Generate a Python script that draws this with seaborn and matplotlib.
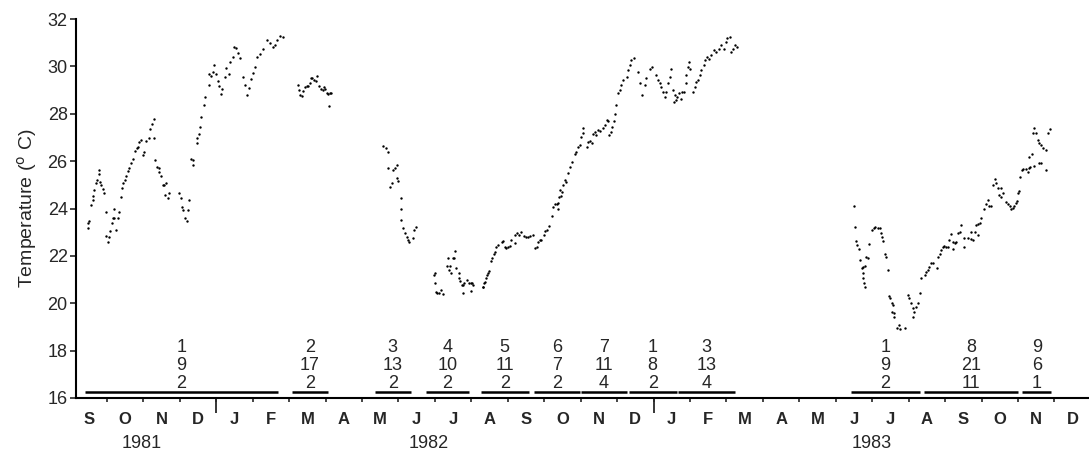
import numpy as np
import pandas as pd
import matplotlib
matplotlib.use("Agg")
import matplotlib.pyplot as plt
import seaborn as sns

# ---------------- data (x = months since 1 Sep 1981, y = temperature in deg C) -------------
seg_1981 = [(0.47, 23.37), (0.49, 23.16), (0.52, 23.47), (0.56, 24.14), (0.61, 24.35), (0.63, 24.53),
            (0.65, 24.78), (0.70, 25.06), (0.72, 25.20), (0.77, 25.44), (0.77, 25.62), (0.82, 25.13),
            (0.84, 24.98), (0.88, 24.81), (0.93, 24.64), (0.97, 23.86), (0.97, 22.85), (1.02, 22.60),
            (1.06, 22.80), (1.08, 23.04), (1.13, 23.37), (1.16, 23.58), (1.20, 23.58), (1.20, 24.00),
            (1.25, 23.10), (1.29, 23.58), (1.32, 23.86), (1.39, 24.49), (1.41, 24.86), (1.45, 25.06),
            (1.50, 25.20), (1.52, 25.38), (1.57, 25.58), (1.60, 25.69), (1.66, 25.90), (1.71, 26.11),
            (1.78, 26.42), (1.82, 26.56), (1.85, 26.60), (1.89, 26.79), (1.93, 26.90), (1.98, 26.26),
            (2.02, 26.37), (2.07, 26.85), (2.14, 26.98), (2.18, 27.37), (2.24, 27.58), (2.28, 27.77),
            (2.30, 26.98), (2.32, 26.04), (2.37, 25.75), (2.42, 25.69), (2.44, 25.55), (2.48, 25.37),
            (2.53, 24.99), (2.57, 25.01), (2.62, 25.06), (2.60, 24.57), (2.67, 24.46), (2.71, 24.64),
            (2.98, 24.64), (3.03, 24.43), (3.06, 24.07), (3.09, 23.93), (3.14, 23.62), (3.19, 23.46),
            (3.22, 23.94), (3.26, 24.36), (3.30, 26.11), (3.35, 26.04), (3.37, 25.83), (3.46, 26.77),
            (3.46, 26.98), (3.52, 27.16), (3.55, 27.44), (3.58, 27.86), (3.67, 28.35), (3.70, 28.70),
            (3.79, 29.22), (3.79, 29.68), (3.85, 29.61), (3.90, 29.75), (3.94, 30.06), (3.99, 29.68),
            (4.04, 29.40), (4.08, 29.19), (4.13, 28.84), (4.17, 29.05), (4.25, 29.54), (4.28, 29.92),
            (4.34, 29.68), (4.38, 30.17), (4.45, 30.38), (4.49, 30.80), (4.54, 30.76), (4.59, 30.56),
            (4.65, 30.34), (4.73, 29.56), (4.79, 29.21), (4.84, 28.78), (4.90, 29.07), (4.95, 29.45),
            (5.01, 29.70), (5.06, 29.98), (5.12, 30.40), (5.20, 30.54), (5.28, 30.75), (5.39, 31.10),
            (5.47, 30.99), (5.55, 30.82), (5.61, 30.89), (5.66, 31.10), (5.75, 31.27), (5.83, 31.24)]

seg_mar82 = [(6.25, 29.21), (6.28, 28.99), (6.29, 28.78), (6.34, 28.74), (6.39, 28.95), (6.43, 29.14),
             (6.48, 29.18), (6.52, 29.18), (6.57, 29.28), (6.60, 29.49), (6.64, 29.52), (6.68, 29.42),
             (6.73, 29.38), (6.77, 29.59), (6.82, 29.18), (6.87, 29.04), (6.92, 29.00), (6.95, 29.14),
             (6.99, 29.04), (7.03, 28.86), (7.07, 28.83), (7.12, 28.86), (7.16, 28.88), (7.10, 28.33)]

seg_may82 = [(8.58, 26.65), (8.67, 26.56), (8.70, 26.39), (8.72, 25.69), (8.76, 24.92), (8.81, 25.06),
             (8.84, 25.62), (8.90, 25.72), (8.95, 25.83), (8.96, 25.30), (9.00, 25.18), (9.08, 24.43),
             (9.08, 24.00), (9.08, 23.51), (9.13, 23.16), (9.17, 22.95), (9.22, 22.81), (9.26, 22.67),
             (9.29, 22.60), (9.39, 22.74), (9.43, 23.09), (9.48, 23.23)]

seg_jul82 = [(9.97, 21.19), (9.99, 21.26), (9.99, 20.87), (10.02, 20.49), (10.06, 20.44), (10.12, 20.42),
             (10.18, 20.56), (10.21, 20.39), (10.32, 21.58), (10.36, 21.89), (10.41, 21.58), (10.39, 21.40),
             (10.43, 21.29), (10.50, 21.89), (10.53, 21.89), (10.55, 22.22), (10.57, 21.50), (10.66, 21.26),
             (10.66, 21.05), (10.68, 20.94), (10.73, 20.77), (10.76, 20.44), (10.77, 20.77), (10.80, 20.84),
             (10.89, 20.98), (10.94, 20.87), (10.98, 20.87), (11.03, 20.87), (11.05, 20.77), (10.98, 20.53),
             (11.31, 20.70), (11.32, 20.67), (11.34, 20.84), (11.37, 20.91), (11.40, 21.05), (11.43, 21.19),
             (11.46, 21.29), (11.49, 21.37), (11.55, 21.79), (11.58, 21.89), (11.62, 22.08), (11.64, 22.17),
             (11.67, 22.38), (11.73, 22.46), (11.83, 22.60), (11.87, 22.62), (11.92, 22.38), (11.96, 22.34),
             (12.01, 22.38), (12.05, 22.42), (12.10, 22.67), (12.19, 22.88), (12.24, 22.95), (12.31, 22.88),
             (12.37, 23.02), (12.19, 22.53), (12.44, 22.84), (12.49, 22.81), (12.56, 22.78), (12.60, 22.84),
             (12.68, 22.88), (12.74, 22.32), (12.79, 22.38), (12.83, 22.60), (12.88, 22.67), (12.92, 22.67),
             (12.99, 22.88), (13.03, 23.06), (13.08, 23.09), (13.13, 23.26), (13.20, 23.68), (13.24, 24.07),
             (13.29, 24.21), (13.34, 24.21), (13.38, 24.24), (13.38, 23.96), (13.41, 24.50), (13.43, 24.78),
             (13.47, 24.52), (13.50, 24.70), (13.52, 24.99), (13.56, 25.20), (13.61, 25.13), (13.65, 25.48),
             (13.70, 25.76), (13.77, 25.97), (13.84, 26.32), (13.88, 26.39), (13.93, 26.60), (13.99, 26.70),
             (14.02, 27.03), (14.05, 27.38), (14.06, 27.17), (14.16, 26.60), (14.20, 26.81), (14.25, 26.84),
             (14.30, 26.75), (14.34, 27.13), (14.39, 27.21), (14.43, 27.10), (14.48, 27.31), (14.54, 27.27),
             (14.60, 27.38), (14.66, 27.52), (14.71, 27.73), (14.75, 27.69), (14.78, 27.10), (14.82, 27.24),
             (14.87, 27.45), (14.91, 27.69), (14.93, 28.01), (14.96, 28.36), (15.02, 28.86), (15.07, 29.00),
             (15.12, 29.21), (15.16, 29.42), (15.26, 29.56), (15.30, 29.84), (15.35, 30.05), (15.39, 30.26),
             (15.46, 30.36), (15.57, 29.77), (15.62, 29.28), (15.67, 28.78), (15.76, 29.21), (15.80, 29.49),
             (15.89, 29.91), (15.97, 29.98), (16.06, 29.63), (16.12, 29.42), (16.17, 29.28), (16.21, 29.14),
             (16.26, 28.92), (16.31, 28.71), (16.33, 28.92), (16.40, 29.28), (16.44, 29.56), (16.49, 29.91),
             (16.52, 29.00), (16.56, 28.48), (16.58, 28.78), (16.61, 28.57), (16.64, 28.71), (16.70, 28.86),
             (16.74, 28.64), (16.79, 28.90), (16.83, 28.93), (16.88, 29.28), (16.90, 29.63), (16.94, 29.98),
             (16.97, 30.19), (17.01, 29.91), (17.08, 28.92), (17.13, 29.14), (17.17, 29.35), (17.22, 29.42),
             (17.27, 29.63), (17.31, 29.84), (17.38, 30.05), (17.42, 30.26), (17.47, 30.40), (17.51, 30.33),
             (17.59, 30.50), (17.65, 30.68), (17.72, 30.61), (17.79, 30.75), (17.86, 30.90), (17.92, 30.75),
             (17.98, 31.04), (18.02, 31.18), (18.09, 31.25), (18.13, 30.61), (18.18, 30.75), (18.24, 30.90),
             (18.29, 30.82)]

seg_jun83 = [(21.49, 24.10), (21.52, 23.23), (21.55, 22.64), (21.59, 22.46), (21.63, 22.27), (21.67, 21.82),
             (21.73, 21.47), (21.74, 21.29), (21.76, 21.54), (21.76, 21.05), (21.78, 20.84), (21.79, 21.57),
             (21.79, 20.70), (21.84, 21.96), (21.88, 21.90), (21.91, 22.50), (22.00, 23.09), (22.05, 23.16),
             (22.09, 23.20), (22.16, 23.16), (22.22, 23.16), (22.25, 22.95), (22.28, 22.81), (22.29, 22.64),
             (22.34, 22.10), (22.37, 21.96), (22.43, 21.40), (22.46, 20.30), (22.50, 20.21), (22.54, 20.02),
             (22.55, 19.64), (22.57, 19.92), (22.59, 19.60), (22.61, 19.43), (22.68, 18.94), (22.73, 19.08),
             (22.77, 18.91), (22.91, 18.94), (22.98, 20.35), (23.02, 20.21), (23.07, 20.00), (23.12, 19.78),
             (23.13, 19.43), (23.16, 19.64), (23.21, 19.85), (23.25, 20.02), (23.30, 20.44), (23.35, 21.05),
             (23.44, 21.19), (23.48, 21.33), (23.53, 21.40), (23.57, 21.54), (23.62, 21.68), (23.66, 21.71),
             (23.77, 21.47), (23.80, 21.96), (23.85, 22.10), (23.89, 22.24), (23.94, 22.38), (23.98, 22.41),
             (24.03, 22.38), (24.07, 22.38), (24.12, 22.69), (24.16, 22.92), (24.21, 22.60), (24.21, 22.27),
             (24.26, 22.55), (24.31, 22.60), (24.35, 22.95), (24.40, 23.02), (24.44, 23.30), (24.51, 22.38),
             (24.53, 22.74), (24.62, 22.74), (24.72, 22.70), (24.72, 23.02), (24.76, 22.67), (24.81, 23.02),
             (24.84, 23.30), (24.90, 23.34), (24.90, 22.88), (24.95, 23.40), (24.99, 23.62), (25.08, 24.00),
             (25.13, 24.19), (25.17, 24.35), (25.20, 24.10), (25.27, 24.10), (25.31, 24.99), (25.36, 25.25),
             (25.40, 25.06), (25.45, 24.85), (25.49, 24.56), (25.54, 24.47), (25.54, 24.85), (25.58, 24.64),
             (25.66, 24.28), (25.72, 24.19), (25.77, 24.10), (25.81, 24.00), (25.86, 24.03), (25.90, 24.10),
             (25.95, 24.23), (25.97, 24.31), (26.00, 24.64), (26.02, 24.73), (26.06, 25.31), (26.12, 25.62),
             (26.15, 25.65), (26.21, 25.65), (26.27, 25.55), (26.30, 25.73), (26.34, 25.76), (26.30, 26.16),
             (26.39, 26.32), (26.41, 27.17), (26.45, 27.38), (26.45, 25.79), (26.50, 27.17), (26.54, 26.89),
             (26.59, 26.75), (26.59, 25.93), (26.64, 26.68), (26.64, 25.90), (26.70, 26.54), (26.76, 26.49),
             (26.78, 25.62), (26.82, 27.17), (26.87, 27.34)]

month_letters = list("SONDJFMAMJJASONDJFMAMJJASOND")
year_labels = ["1981", "1982", "1983"]
year_label_pos = [1.96, 9.83, 21.98]
year_boundaries = [4, 16]

# sampling periods: start, end (months) and the three numbers written above each bar
period_start = [0.40, 6.07, 8.35, 9.75, 11.26, 12.71, 14.02, 15.32, 16.66, 21.43, 23.41, 26.12]
period_end = [5.69, 7.06, 9.34, 10.93, 12.57, 13.98, 15.26, 16.63, 18.23, 23.30, 26.01, 26.92]
period_top = ["1", "2", "3", "4", "5", "6", "7", "1", "3", "1", "8", "9"]
period_mid = ["9", "17", "13", "10", "11", "7", "11", "8", "13", "9", "21", "6"]
period_bot = ["2", "2", "2", "2", "2", "2", "4", "2", "4", "2", "11", "1"]

# ---------------- figure ----------------
sns.set_style("ticks")
plt.rcParams["font.family"] = ["Liberation Sans", "DejaVu Sans"]

fig = plt.figure(figsize=(10.89, 4.59), dpi=100)
ax = fig.add_axes([76 / 1089, (459 - 398) / 459, (1089 - 76) / 1089, (398 - 19) / 459])

frames = []
for seg in (seg_1981, seg_mar82, seg_may82, seg_jul82, seg_jun83):
    frames.append(pd.DataFrame(seg, columns=["month", "temp"]))
df = pd.concat(frames, ignore_index=True)

sns.scatterplot(data=df, x="month", y="temp", s=3, color="black", linewidth=0,
                marker="o", ax=ax, legend=False)

# sampling bars and numbers
ax.hlines([16.25] * len(period_start), period_start, period_end, color="black", lw=1.8)
for s, e, t, m, b in zip(period_start, period_end, period_top, period_mid, period_bot):
    c = (s + e) / 2
    for yv, txt in ((18.15, t), (17.39, m), (16.63, b)):
        ax.text(c, yv, txt, ha="center", va="center", fontsize=13, fontweight="medium")

ax.set_xlim(0.15, 27.95)
ax.set_ylim(16, 32)
ax.set_yticks(np.arange(16, 33, 2))
ax.tick_params(axis="y", direction="out", length=4.5, width=1.2, pad=1.5, labelsize=13)

# month boundaries (major ticks, no labels) and month letters (minor, centred)
ax.set_xticks(np.arange(1, len(month_letters)), labels=[""] * (len(month_letters) - 1))
ax.set_xticks(np.arange(len(month_letters)) + 0.5, labels=month_letters, minor=True)
ax.tick_params(axis="x", which="major", direction="out", length=3, width=1.2)
ax.tick_params(axis="x", which="minor", length=0, pad=10, labelsize=12)
for lab in ax.get_xticklabels(minor=True):
    lab.set_fontweight("bold")

# longer ticks at year changes
sec = ax.secondary_xaxis("bottom")
sec.set_xticks(year_boundaries, labels=["", ""])
sec.tick_params(axis="x", length=11, width=1.3, direction="out")
sec.spines["bottom"].set_visible(False)

for x, lab in zip(year_label_pos, year_labels):
    ax.text(x, -0.12, lab, transform=ax.get_xaxis_transform(), ha="center", va="center",
            fontsize=13)

ax.set_xlabel("")
ax.set_ylabel("Temperature (${}^{\\mathrm{o}}$ C)", fontsize=14, labelpad=6)

sns.despine(ax=ax)
for sp in ("left", "bottom"):
    ax.spines[sp].set_linewidth(1.5)
    ax.spines[sp].set_color("black")

fig.savefig("out.png", dpi=100)
